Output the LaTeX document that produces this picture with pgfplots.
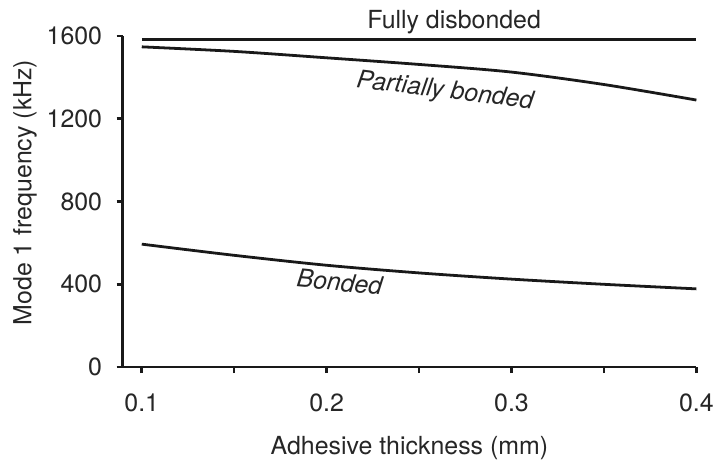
\documentclass[border=0pt]{standalone}
\usepackage{pgfplots}
\pgfplotsset{compat=1.18}
\usepackage{fontspec}
\setmainfont{TeX Gyre Heros}
\newcommand{\bigfs}{\fontsize{25}{30}\selectfont}
\begin{document}
\bigfs
\begin{tikzpicture}
\begin{axis}[
  at={(0,0)}, anchor=south west,
  scale only axis,
  width=576pt, height=332.5pt,
  xmin=0.0896, xmax=0.4,
  ymin=0, ymax=1600,
  axis x line*=bottom, axis y line*=left,
  axis line style={line width=2.6pt, color=black!90},
  tick align=outside,
  major tick length=6pt, minor tick length=6pt,
  every tick/.style={line width=2.6pt, black!90},
  xtick={0.1,0.2,0.3,0.4},
  xticklabels={{\bigfs 0.1},{\bigfs 0.2},{\bigfs 0.3},{\bigfs 0.4}},
  minor xtick={0.15,0.25,0.35},
  ytick={0,400,800,1200,1600},
  yticklabels={{\bigfs 0},{\bigfs 400},{\bigfs 800},{\bigfs 1200},{\bigfs 1600}},
  tick label style={font=\bigfs, text=black!85},
  xticklabel style={yshift=-12pt},
  yticklabel style={xshift=-6pt},
  xlabel={Adhesive thickness (mm)},
  ylabel={Mode 1 frequency (kHz)},
  label style={font=\bigfs, text=black!85},
  xlabel style={at={(axis description cs:0.5,-0.2436)}, anchor=center},
  ylabel style={at={(axis description cs:-0.170,0.527)}, anchor=center},
  clip=false,
]
\addplot[line width=2.8pt, black!90] coordinates {(0.1,1584) (0.4,1584)};
\addplot[line width=2.8pt, black!90, smooth] coordinates {
  (0.1,1547) (0.15,1525) (0.2,1494) (0.25,1462) (0.3,1425) (0.35,1365) (0.4,1290)};
\addplot[line width=2.8pt, black!90, smooth] coordinates {
  (0.1,594) (0.15,540) (0.2,492) (0.25,455) (0.3,425) (0.35,400) (0.4,378)};
\node[text=black!85, font=\bigfs] at (axis cs:0.269,1667) {Fully disbonded};
\node[text=black!85, font=\bigfs\itshape, rotate=-7] at (axis cs:0.264,1330) {Partially bonded};
\node[text=black!85, font=\bigfs\itshape, rotate=-5.5] at (axis cs:0.207,410) {Bonded};
\end{axis}
\path (-123pt,-94.5pt) rectangle (599pt,368.5pt);
\end{tikzpicture}
\end{document}
